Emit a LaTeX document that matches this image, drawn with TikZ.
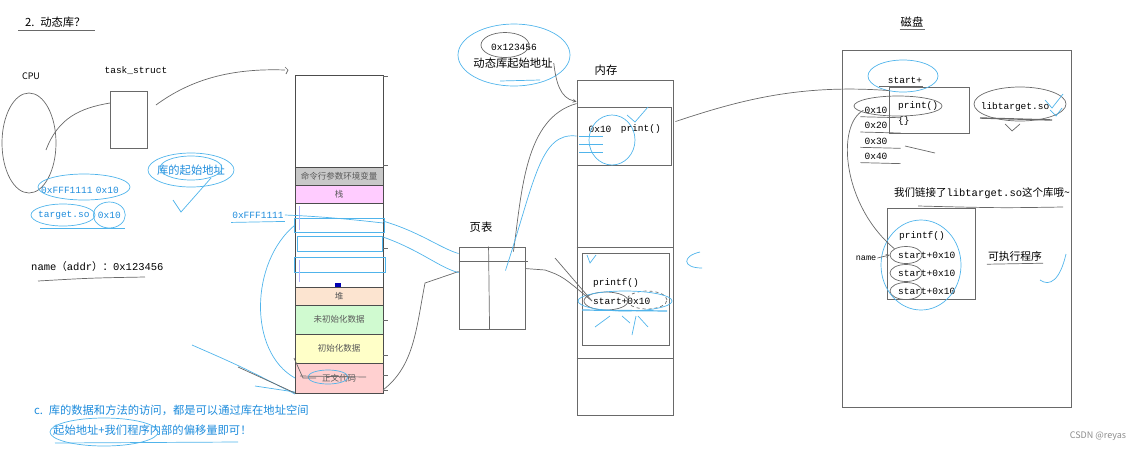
\documentclass[tikz,border=0pt]{standalone}
\usepackage{fontspec}
\setmainfont{Noto Sans CJK SC}
\setmonofont{Liberation Mono}
\usetikzlibrary{shapes,arrows,positioning}
\usetikzlibrary{calc}
\definecolor{inkblue}{RGB}{80,180,235}
\definecolor{txtblue}{RGB}{30,140,220}
\definecolor{pen}{RGB}{105,105,105}
\definecolor{envgray}{RGB}{200,200,200}
\definecolor{stackpink}{RGB}{255,204,255}
\definecolor{heaporange}{RGB}{252,228,208}
\definecolor{bssgreen}{RGB}{208,250,208}
\definecolor{datayellow}{RGB}{255,255,200}
\definecolor{textred}{RGB}{255,208,208}
\tikzset{
  cn/.style={inner sep=1pt,font=\fontsize{11.3}{13}\selectfont},
  mono/.style={inner sep=1pt,font=\ttfamily\fontsize{9.5}{11}\selectfont},
  bluecn/.style={cn,text=txtblue},
  bluemono/.style={mono,text=txtblue},
  boxline/.style={draw=pen,line width=0.9pt,inner sep=0pt},
  seg/.style={draw=black!70,line width=0.9pt,minimum width=88,inner sep=0pt,outer sep=0pt,
    font=\fontsize{8.5}{9}\selectfont,text=black!65},
  ring/.style={ellipse,draw=pen,line width=0.7pt,inner sep=0pt},
  bluering/.style={ellipse,draw=inkblue,line width=0.7pt,inner sep=0pt},
  pencil/.style={draw=pen,line width=0.7pt},
  ink/.style={draw=inkblue,line width=0.7pt},
}

\begin{document}
\begin{tikzpicture}[x=1pt,y=1pt,node distance=0pt]
  \useasboundingbox (0,0) rectangle (1148,-451);

  \node[cn,anchor=west] (title) at (24,-22) {2.\enspace 动态库？};
  \draw[pencil] ([xshift=-6,yshift=-2]title.south west) -- ([xshift=8,yshift=-2]title.south east);

  % cpu, task_struct
  \node[inner sep=1pt,font=\fontsize{9}{10}\selectfont] (cpulbl) at (31,-76) {CPU};
  \node[ring,minimum width=54,minimum height=100] (cpu) at (29,-143) {};
  \node[mono] (tasklbl) at (136,-71) {task\_struct};
  \node[boxline,minimum width=37,minimum height=57] (task) at (129,-120) {};
  \draw[pencil] ([shift={(17,-7)}]cpu.center) .. controls (58,-118) and (80,-108) .. ([yshift=17]task.west);

  % address space
  \node[seg,minimum height=92] (memtop) at (339,-121) {};
  \node[seg,minimum height=18,fill=envgray,below=of memtop] (memenv) {命令行参数环境变量};
  \node[seg,minimum height=18,fill=stackpink,below=of memenv] (memstack) {栈};
  \node[seg,minimum height=84,below=of memstack] (memgap) {};
  \node[seg,minimum height=18,fill=heaporange,below=of memgap] (memheap) {堆};
  \node[seg,minimum height=29,fill=bssgreen,below=of memheap] (membss) {未初始化数据};
  \node[seg,minimum height=29,fill=datayellow,below=of membss] (memdata) {初始化数据};
  \node[seg,minimum height=30,fill=textred,below=of memdata] (memtext) {正文代码};
  \fill[blue!70!black] (335,-283) rectangle (341,-287);
  \draw[ink] (294,-218) rectangle (384,-232);
  \draw[ink] (297,-236) rectangle (382,-251);
  \draw[ink] (294,-257) rectangle (385,-272);
  \draw[draw=blue!30,line width=0.6pt] (299,-206) -- (299,-230) (299,-260) -- (299,-282);
  \foreach \y in {76,165,248,320,355,375,390}
    \draw[pencil,line width=0.5pt] (383,-\y) -- (388,-\y);
  \coordinate (tasktail) at ([xshift=-10,yshift=5]memtop.north west);
  \draw[pencil] ([shift={(8,15)}]task.east) .. controls (190,-80) and (230,-68) .. (tasktail);
  \draw[pencil] ([yshift=3]tasktail) -- ++(3,-3) -- ++(-2,-4);
  \node[bluering,minimum width=40,minimum height=14] (textring) at (328,-377) {};
  \draw[pencil] (294,-358) -- (303,-378) -- (316,-378);
  \draw[pencil] (300,-376) -- (366,-377);

  % blue notes on the left
  \node[bluemono,anchor=west] (fff) at (40,-190) {0xFFF1111};
  \node[bluemono,right=1pt of fff] (cpuoff) {0x10};
  \node[bluering,minimum width=92,minimum height=26] (fffring) at (84,-187) {};
  \node[bluemono,anchor=west] (tso) at (37,-215) {target.so};
  \node[bluemono,right=6pt of tso] (tsooff) {0x10};
  \node[bluering,minimum width=64,minimum height=22] (tsoring) at (63,-215) {};
  \node[bluering,minimum width=32,minimum height=26] (tsooffring) at (tsooff) {};
  \draw[ink] (40,-228) -- (125,-228);
  \node[bluecn] (libstart) at (191,-170) {库的起始地址};
  \node[bluering,minimum width=86,minimum height=34] (libring) at (libstart) {};
  \node[bluering,minimum width=62,minimum height=24] (libring2) at ([yshift=2]libstart) {};
  \draw[ink] ([shift={(-18,-30)}]libstart.center) -- ([shift={(-10,-42)}]libstart.center) -- ([shift={(20,-8)}]libstart.center);
  \node[bluemono] (fffmem) at (258,-215) {0xFFF1111};
  \draw[ink] ([yshift=-3]fffmem.south west) -- ([yshift=-2]fffmem.south east);
  \draw[ink] (fffmem.east) .. controls (310,-216) and (340,-218) .. ([yshift=-20]memgap.north east);
  \draw[ink] ([yshift=-22]memgap.north west) .. controls (250,-262) and (248,-352) .. ([yshift=-15]memtext.north west);
  \draw[ink] (192,-345) .. controls (240,-366) .. ([yshift=-16]memtext.west);
  \draw[ink] (255,-386) -- ([yshift=-14]memtext.west);
  \draw[pencil] (238,-367) -- ([yshift=-15]memtext.west);

  \node[cn,anchor=west,font=\fontsize{10.5}{12}\selectfont] (nameaddr) at (30,-267) {\texttt{name}（\texttt{addr}）：\texttt{0x123456}};
  \draw[pencil] (38,-281) .. controls (90,-278) .. (145,-277);

  \node[bluecn,anchor=west] (note1) at (33,-410) {c.\enspace 库的数据和方法的访问，都是可以通过库在地址空间};
  \node[bluecn,anchor=west] (note2) at (52,-430) {起始地址+我们程序内部的偏移量即可！};
  \node[bluering,minimum width=108,minimum height=28] (note2ring) at (104,-432) {};
  \draw[ink] (55,-443) -- (238,-442);

  % dynamic library address
  \node[mono] (dynaddr) at (514,-47) {0x123456};
  \node[cn] (dynlbl) at (513,-63) {动态库起始地址};
  \node[bluering,minimum width=112,minimum height=62] (dynring) at (514,-55) {};
  \node[ring,minimum width=48,minimum height=25] (dynsmall) at (505,-45) {};
  \draw[ink] (500,-81) -- (540,-80);

  % physical memory
  \node[cn] (memlbl) at (606,-70) {内存};
  \node[boxline,minimum width=96,minimum height=335] (ram) at (625,-247.5) {};
  \node[boxline,minimum width=94,minimum height=58] (ramlib) at (624,-136) {};
  \node[mono] (ramoff) at (600,-129) {0x10};
  \node[mono,right=7pt of ramoff] (ramprint) {print()};
  \node[bluering,minimum width=46,minimum height=50] (ramcircle) at (612,-140) {};
  \draw[ink] (627,-115) -- (635,-122) -- (648,-107);
  \foreach \y in {136,144,152}
    \draw[ink] (579,-\y) -- (603,-\y);
  \draw[pencil] (ram.west |- 0,-247) -- (ram.east |- 0,-247);
  \draw[pencil] (ram.west |- 0,-358) -- (ram.east |- 0,-358);
  \node[boxline,minimum width=87,minimum height=92] (ramexe) at (625.5,-299) {};
  \node[mono,anchor=west] (ramprintf) at (592,-283) {printf()};
  \node[mono,anchor=west] (ramstart) at (592,-301) {start+0x10};
  \node[ring,minimum width=44,minimum height=18] (ramstartring) at (606,-301) {};
  \node[ring,dashed,minimum width=40,minimum height=18] (ramoffring) at (647,-300) {};
  \node[bluering,minimum width=94,minimum height=20] (ramexering) at (625,-301) {};
  \draw[ink,line width=1.2pt] (582,-310) -- (667,-311);
  \draw[ink] (595,-327) -- (610,-316) (630,-323) -- (622,-316) (632,-335) -- (636,-316) (648,-327) -- (638,-316);
  \draw[ink] (587,-255) -- (590,-263) -- (596,-255);

  % page table
  \node[cn] (ptlbl) at (481,-227) {页表};
  \node[boxline,minimum width=66,minimum height=82] (pt) at (492,-288) {};
  \draw[pencil] ([yshift=-15]pt.north west) -- ([xshift=3,yshift=-15]pt.north east);
  \draw[pencil] ([xshift=30]pt.north west) -- ([xshift=31]pt.south west);

  \draw[pencil,->,>=stealth] (dynlbl.east) .. controls (556,-82) and (560,-98) .. ([yshift=-22]ram.north west);
  \draw[pencil] ([xshift=-12,yshift=-5]pt.north east) .. controls (522,-190) and (525,-118) .. ([yshift=-24]ram.north west);
  \draw[ink] ([xshift=-20,yshift=-24]pt.north east) .. controls (535,-180) and (540,-132) .. (ramlib.west);
  \draw[pencil] ([yshift=-22]pt.north east) -- (545,-270) .. controls (562,-276) .. (ramstart.west);
  \draw[pencil] (555,-258) -- (ramstart.west);
  \draw[pencil] ([yshift=-25]pt.north west) -- (425,-283) .. controls (416,-330) and (414,-366) .. ([yshift=-12]memtext.east);
  \draw[ink] ([yshift=-18]memgap.north east) .. controls (420,-232) and (440,-248) .. ([yshift=-7]pt.north west);
  \draw[ink] ([yshift=-34]memgap.north east) .. controls (420,-250) and (440,-268) .. ([yshift=-26]pt.north west);
  \draw[ink] (700,-252) .. controls (682,-256) and (682,-268) .. (702,-268);

  % disk
  \node[cn] (disklbl) at (912,-22) {磁盘};
  \draw[pencil] ([yshift=-1]disklbl.south west) -- ([yshift=-1]disklbl.south east);
  \node[boxline,minimum width=229,minimum height=357] (disk) at (956.5,-228.5) {};
  \node[boxline,minimum width=80,minimum height=46] (libbox) at (929,-110) {};
  \node[mono,anchor=west] (libprint) at (897,-106) {print()};
  \node[mono,anchor=west] (libbody) at (897,-121) {\{\}};
  \node[mono] (libstartlbl) at (905,-80) {start+};
  \draw[pencil] ([xshift=-8,yshift=-2]libstartlbl.south west) -- ([yshift=-2]libstartlbl.south east);
  \node[bluering,minimum width=70,minimum height=32] (libstartring) at (903,-76) {};
  \foreach \i/\a in {1/0x10,2/0x20,3/0x30,4/0x40} {
    \node[mono] (libofs\i) at (876,{-95-15.3*\i}) {\a};
    \draw[pencil] ([xshift=-3,yshift=-2]libofs\i.south west) -- ([xshift=12,yshift=-3]libofs\i.south east);
  }
  \node[ring,minimum width=88,minimum height=20] (printring) at (898,-106) {};
  \node[mono] (libso) at (1015,-107) {libtarget.so};
  \node[ring,minimum width=92,minimum height=34] (libsoring) at (1020,-104) {};
  \draw[pencil,line width=1.4pt] (980,-118) -- (1052,-120);
  \draw[pencil] (1005,-124) -- (1012,-131) -- (1020,-124);
  \draw[ink] (1045,-100) -- (1052,-108) -- (1063,-94) (1050,-110) -- (1056,-116) -- (1062,-108);
  \draw[pencil] ([xshift=8,yshift=-40]ram.north east) -- ++(-6,-2) .. controls (740,-100) and (800,-84) .. ([yshift=-4]libbox.north west);
  \draw[pencil] (905,-146) -- (935,-153);

  \node[cn,font=\fontsize{10.5}{12}\selectfont] (linkedlbl) at (982,-193) {我们链接了\texttt{libtarget.so}这个库哦\textasciitilde};
  \draw[pencil] (918,-206) .. controls (1000,-208) .. (1063,-207);

  \node[boxline,minimum width=88,minimum height=91] (exebox) at (931,-253.5) {};
  \node[mono,anchor=west] (exeprintf) at (898,-236) {printf()};
  \foreach \i in {1,2,3} {
    \node[mono,anchor=west] (exestart\i) at (897,{-237-18*\i}) {start+0x10};
    \node[ring,minimum width=32,minimum height=17] (exering\i) at (906,{-237-18*\i}) {};
  }
  \node[bluering,minimum width=80,minimum height=90] (exeblue) at (921,-265) {};
  \node[mono,font=\ttfamily\fontsize{8.5}{9}\selectfont] (namelbl) at (866,-258) {name};
  \draw[pencil,->,>=stealth] (namelbl.east) -- (exering1.west);
  \draw[pencil] (libofs1.west) .. controls (836,-125) and (842,-205) .. (exering1.north west);
  \node[cn,font=\fontsize{10.8}{12}\selectfont] (exelbl) at (1015,-256) {可执行程序};
  \draw[pencil] ([yshift=-2]exelbl.south west) -- ([yshift=-1]exelbl.south east);
  \draw[ink] (1066,-254) .. controls (1060,-280) and (1050,-287) .. (1040,-280);

  \node[inner sep=1pt,font=\fontsize{9}{10}\selectfont,text=black!45] (wm) at (1098,-436) {CSDN @reyas};
\end{tikzpicture}
\end{document}
